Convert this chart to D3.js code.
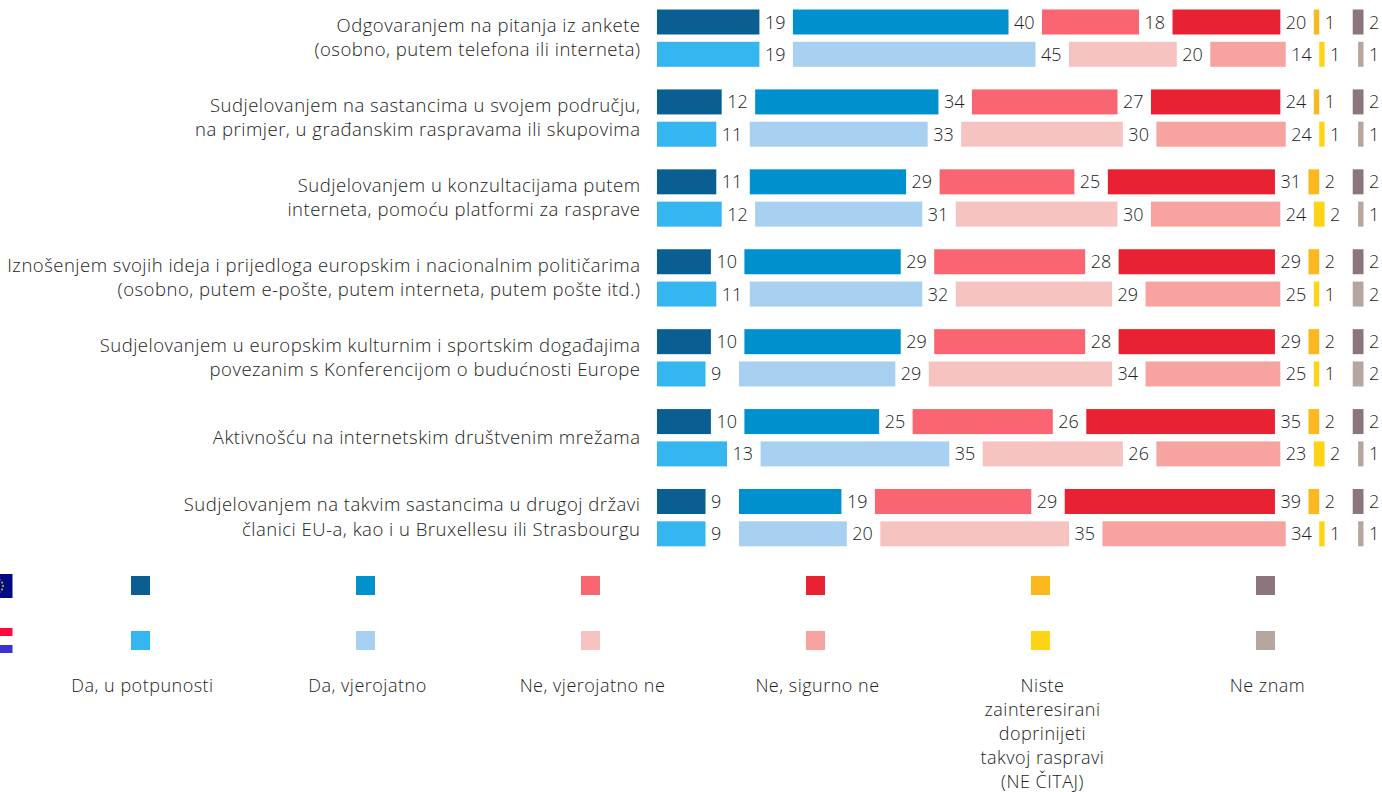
<!DOCTYPE html>
<html><head><meta charset="utf-8">
<script src="https://cdnjs.cloudflare.com/ajax/libs/d3/7.8.5/d3.min.js"></script>
<style>html,body{margin:0;padding:0;background:#fff;overflow:hidden}svg{display:block}text{font-family:"Open Sans","Noto Sans",sans-serif;font-weight:300;fill:#222}</style>
</head><body><svg id="c" width="1382" height="792"></svg>
<script>
const questions = [
 ["Odgovaranjem na pitanja iz ankete","(osobno, putem telefona ili interneta)"],
 ["Sudjelovanjem na sastancima u svojem području,","na primjer, u građanskim raspravama ili skupovima"],
 ["Sudjelovanjem u konzultacijama putem","interneta, pomoću platformi za rasprave"],
 ["Iznošenjem svojih ideja i prijedloga europskim i nacionalnim političarima","(osobno, putem e-pošte, putem interneta, putem pošte itd.)"],
 ["Sudjelovanjem u europskim kulturnim i sportskim događajima","povezanim s Konferencijom o budućnosti Europe"],
 ["Aktivnošću na internetskim društvenim mrežama"],
 ["Sudjelovanjem na takvim sastancima u drugoj državi","članici EU-a, kao i u Bruxellesu ili Strasbourgu"]
];
const euValues = [[19,40,18,20,1,2],[12,34,27,24,1,2],[11,29,25,31,2,2],[10,29,28,29,2,2],[10,29,28,29,2,2],[10,25,26,35,2,2],[9,19,29,39,2,2]];
const hrValues = [[19,45,20,14,1,1],[11,33,30,24,1,1],[12,31,30,24,2,1],[11,32,29,25,1,2],[9,29,34,25,1,2],[13,35,26,23,2,1],[9,20,35,34,1,1]];
const euColors = ["#0b5e91","#0090cd","#f96570","#e82133","#fbb81f","#8a767c"];
const hrColors = ["#35b6f1","#a8d0f0","#f6c3c0","#f6a3a1","#ffd416","#b5a79f"];
const legendLabels = [["Da, u potpunosti"],["Da, vjerojatno"],["Ne, vjerojatno ne"],["Ne, sigurno ne"],["Niste","zainteresirani","doprinijeti","takvoj raspravi","(NE ČITAJ)"],["Ne znam"]];
const svg = d3.select("#c");
const FS = 18.5;
const x = d3.scaleLinear().domain([0,100]).range([0,539]);
const gap = 33.5, x0 = 657;
const yGroup = d3.scaleLinear().domain([0,6]).range([9.5,489]);
const rowOffset = [0,32.3], barH = 25;
questions.forEach((q,i)=>{
  const yc = yGroup(i)+28.5;
  const g = svg.append("g");
  g.selectAll("text").data(q).join("text")
    .attr("x",640.5).attr("text-anchor","end").attr("font-size",FS).attr("letter-spacing",0.5)
    .attr("y",(d,k)=>yc+(k-(q.length-1)/2)*24.1+6).text(d=>d);
  [euValues[i],hrValues[i]].forEach((vals,r)=>{
    const cols = r?hrColors:euColors;
    let cur = x0;
    vals.forEach((v,k)=>{
      const w = x(v);
      g.append("rect").attr("x",cur).attr("y",yGroup(i)+rowOffset[r]).attr("width",w).attr("height",barH).attr("fill",cols[k]);
      g.append("text").attr("x",cur+w+5.5).attr("y",yGroup(i)+rowOffset[r]+19).attr("font-size",18).text(v);
      cur += w+gap;
    });
  });
});
// legend
const lx = d3.scalePoint().domain(d3.range(6)).range([131,1256]);
d3.range(6).forEach(k=>{
  svg.append("rect").attr("x",lx(k)).attr("y",576).attr("width",19).attr("height",19).attr("fill",euColors[k]);
  svg.append("rect").attr("x",lx(k)).attr("y",631).attr("width",19).attr("height",19).attr("fill",hrColors[k]);
  svg.append("g").selectAll("text").data(legendLabels[k]).join("text")
    .attr("x",lx(k)+11.5).attr("text-anchor","middle").attr("font-size",18).attr("letter-spacing",0.5)
    .attr("y",(d,j)=>691.5+j*24).text(d=>d);
});
// flags
svg.append("rect").attr("x",-14).attr("y",574).attr("width",26.5).attr("height",24).attr("fill","#000a82");
d3.range(12).forEach(a=>{
  const t=a/12*2*Math.PI;
  svg.append("circle").attr("cx",-4+7*Math.cos(t)).attr("cy",586+7*Math.sin(t)).attr("r",1).attr("fill","#d8c820");
});
svg.append("rect").attr("x",-14).attr("y",628).attr("width",26.5).attr("height",8).attr("fill","#ff0a3c");
svg.append("rect").attr("x",-14).attr("y",645).attr("width",26.5).attr("height",8).attr("fill","#3c32d2");
</script></body></html>
